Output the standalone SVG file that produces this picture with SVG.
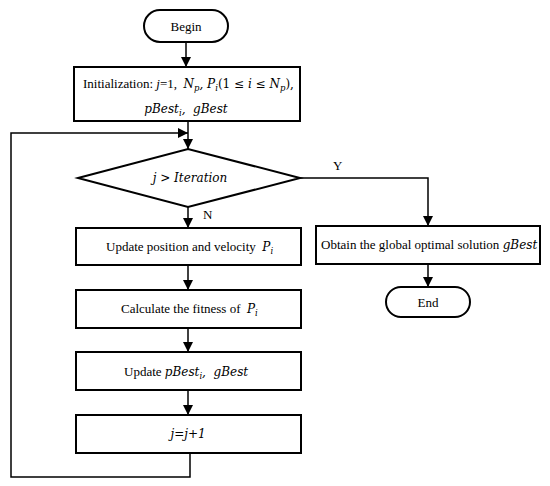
<svg xmlns="http://www.w3.org/2000/svg" width="550" height="486" viewBox="0 0 550 486">
<defs>
<marker id="arr" markerWidth="10" markerHeight="10" refX="10" refY="5" orient="auto" markerUnits="userSpaceOnUse" viewBox="0 0 10 10">
<path d="M0,0 L10,5 L0,10 Z" fill="#000"/>
</marker>
<style>
.box{fill:#fff;stroke:#000;stroke-width:2}
.ln{fill:none;stroke:#000;stroke-width:1.5}
.t{font-family:"Liberation Serif","Times New Roman",serif;font-size:13px;fill:#000;white-space:pre}
.m{font-family:"DejaVu Serif",serif;font-style:italic;font-size:12px;fill:#000;white-space:pre}
</style>
</defs>
<rect width="550" height="486" fill="#fff"/>
<g id="connectors">
<line class="ln" x1="186" y1="42" x2="186" y2="67" marker-end="url(#arr)"/>
<line class="ln" x1="188" y1="121" x2="188" y2="149" marker-end="url(#arr)"/>
<line class="ln" x1="188" y1="207" x2="188" y2="228" marker-end="url(#arr)"/>
<polyline class="ln" points="300,178 428,178 428,226" marker-end="url(#arr)"/>
<line class="ln" x1="188" y1="265" x2="188" y2="290" marker-end="url(#arr)"/>
<line class="ln" x1="188" y1="328" x2="188" y2="352" marker-end="url(#arr)"/>
<line class="ln" x1="188" y1="390" x2="188" y2="415" marker-end="url(#arr)"/>
<polyline class="ln" points="190,453 190,477 11,477 11,133 188,133" marker-end="url(#arr)"/>
<line class="ln" x1="428" y1="264" x2="428" y2="287" marker-end="url(#arr)"/>
<text class="t" x="333" y="170">Y</text>
<text class="t" x="203" y="219">N</text>
</g>
<g id="begin">
<rect class="box" x="144" y="10" width="84" height="32" rx="16"/>
<text class="t" x="186" y="31" text-anchor="middle">Begin</text>
</g>
<g id="init">
<rect class="box" x="74" y="67" width="226" height="54"/>
<text class="t" x="83" y="88" xml:space="preserve">Initialization: <tspan font-style="italic">j</tspan>=1,  <tspan class="m">N<tspan font-size="8.5" dy="3">p</tspan><tspan dy="-3">, P</tspan><tspan font-size="8.5" dy="3">i</tspan><tspan dy="-3" font-style="normal">(1 ≤ </tspan>i<tspan font-style="normal"> ≤ </tspan>N<tspan font-size="8.5" dy="3">p</tspan><tspan dy="-3" font-style="normal">),</tspan></tspan></text>
<text class="m" x="186" y="113" text-anchor="middle" xml:space="preserve">pBest<tspan font-size="8.5" dy="3">i</tspan><tspan dy="-3">,  gBest</tspan></text>
</g>
<g id="decision">
<polygon class="box" points="78,178 188,149 300,178 188,207"/>
<text class="m" x="190" y="182" text-anchor="middle">j &gt; Iteration</text>
</g>
<g id="update-pos">
<rect class="box" x="76" y="228" width="225" height="37"/>
<text class="t" x="106" y="251" xml:space="preserve">Update position and velocity  <tspan class="m">P<tspan font-size="8.5" dy="3">i</tspan></tspan></text>
</g>
<g id="fitness">
<rect class="box" x="76" y="290" width="225" height="38"/>
<text class="t" x="121" y="313" xml:space="preserve">Calculate the fitness of  <tspan class="m">P<tspan font-size="8.5" dy="3">i</tspan></tspan></text>
</g>
<g id="update-best">
<rect class="box" x="76" y="352" width="225" height="38"/>
<text class="t" x="124" y="376" xml:space="preserve">Update <tspan class="m">pBest<tspan font-size="8.5" dy="3">i</tspan><tspan dy="-3">,  gBest</tspan></tspan></text>
</g>
<g id="increment">
<rect class="box" x="76" y="415" width="225" height="38"/>
<text class="m" x="188" y="438" text-anchor="middle">j=j+1</text>
</g>
<g id="obtain">
<rect class="box" x="316" y="226" width="224" height="38"/>
<text class="t" x="321" y="249" xml:space="preserve">Obtain the global optimal solution <tspan class="m">gBest</tspan></text>
</g>
<g id="end">
<rect class="box" x="386" y="287" width="84" height="30" rx="15"/>
<text class="t" x="428" y="307" text-anchor="middle">End</text>
</g>
</svg>
